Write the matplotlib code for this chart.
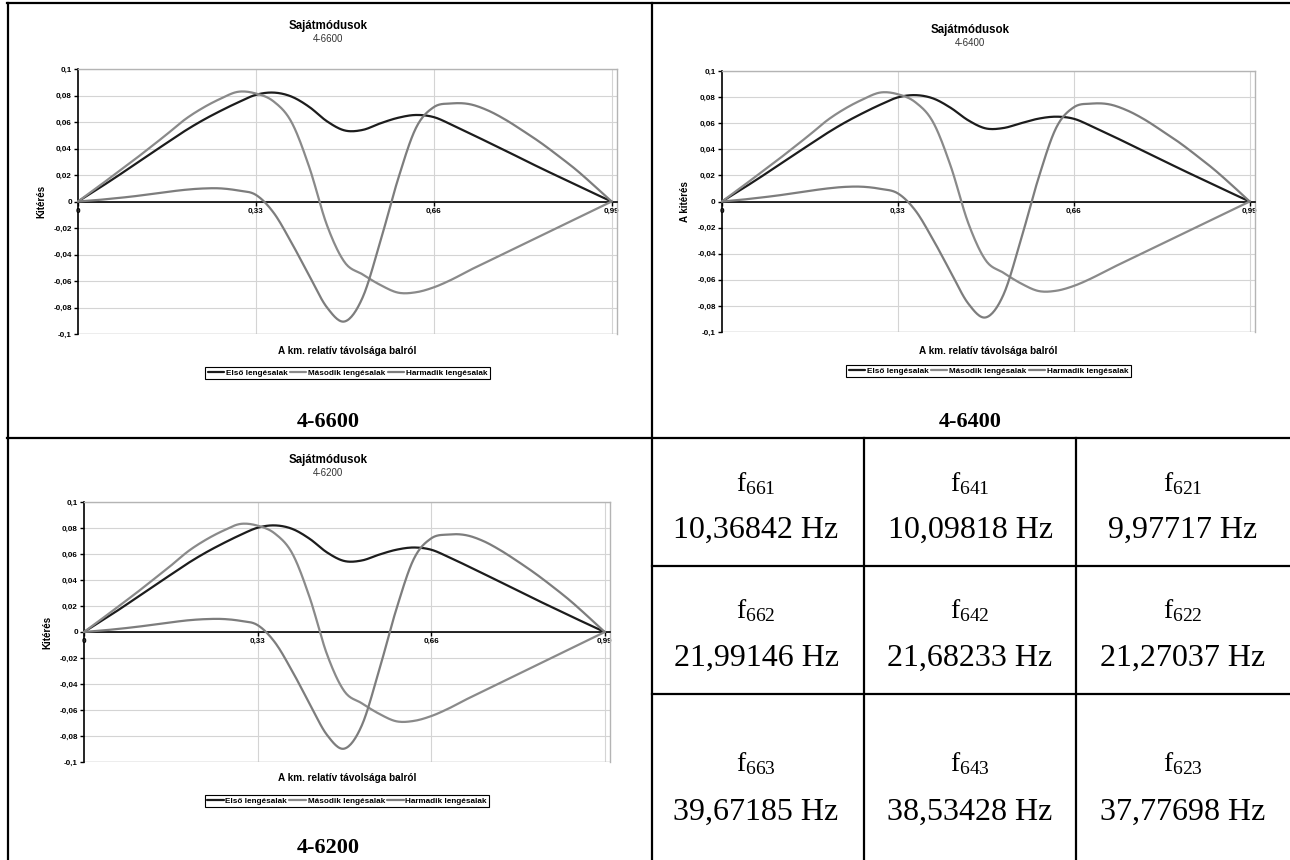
import numpy as np
import matplotlib.pyplot as plt
from matplotlib.lines import Line2D
from matplotlib.ticker import FixedLocator

plt.rcParams['font.family'] = ['Liberation Sans', 'DejaVu Sans']
plt.rcParams['mathtext.fontset'] = 'custom'
plt.rcParams['mathtext.rm'] = 'Liberation Serif'
plt.rcParams['mathtext.it'] = 'Liberation Serif'

W, H = 1290, 860

# relative position of the measuring points along the beam
x_rel = [0, 0.033, 0.066, 0.099, 0.132, 0.165, 0.198, 0.231, 0.264, 0.297, 0.33,
         0.363, 0.396, 0.429, 0.462, 0.495, 0.528, 0.561, 0.594, 0.627, 0.66,
         0.693, 0.726, 0.759, 0.792, 0.825, 0.858, 0.891, 0.924, 0.957, 0.99]

# 4-6600
mode1_6600 = [0, 0.0085, 0.0172, 0.0262, 0.0353, 0.0443, 0.0532, 0.0612, 0.0683, 0.0748, 0.0805,
              0.0822, 0.0792, 0.0714, 0.0605, 0.0536, 0.0540, 0.0590, 0.0632, 0.0653, 0.0637,
              0.0580, 0.0516, 0.0451, 0.0386, 0.0319, 0.0253, 0.0189, 0.0125, 0.0062, 0]
mode2_6600 = [0, 0.0098, 0.0198, 0.0298, 0.0402, 0.0508, 0.0618, 0.0705, 0.0775, 0.0828, 0.0815,
              0.0755, 0.0600, 0.0260, -0.0180, -0.0460, -0.0550, -0.0630, -0.0688, -0.0685, -0.0648,
              -0.0590, -0.0520, -0.0455, -0.0390, -0.0325, -0.0260, -0.0195, -0.0130, -0.0065, 0]
mode3_6600 = [0, 0.0010, 0.0023, 0.0037, 0.0054, 0.0072, 0.0088, 0.0098, 0.0099, 0.0083, 0.0050,
              -0.0085, -0.0310, -0.0560, -0.0800, -0.0905, -0.0725, -0.0300, 0.0172, 0.0555, 0.0712,
              0.0740, 0.0735, 0.0690, 0.0620, 0.0535, 0.0445, 0.0345, 0.0240, 0.0122, 0]

# 4-6400
mode1_6400 = [0, 0.0084, 0.0170, 0.0259, 0.0349, 0.0438, 0.0526, 0.0606, 0.0677, 0.0742, 0.0798,
              0.0815, 0.0790, 0.0718, 0.0622, 0.0560, 0.0563, 0.0600, 0.0635, 0.0650, 0.0634,
              0.0578, 0.0515, 0.0450, 0.0385, 0.0319, 0.0253, 0.0189, 0.0125, 0.0062, 0]
mode2_6400 = [0, 0.0099, 0.0200, 0.0301, 0.0406, 0.0513, 0.0624, 0.0712, 0.0782, 0.0835, 0.0822,
              0.0760, 0.0608, 0.0272, -0.0165, -0.0452, -0.0546, -0.0628, -0.0686, -0.0684, -0.0647,
              -0.0589, -0.0520, -0.0455, -0.0390, -0.0325, -0.0260, -0.0195, -0.0130, -0.0065, 0]
mode3_6400 = [0, 0.0012, 0.0027, 0.0043, 0.0062, 0.0082, 0.0100, 0.0112, 0.0113, 0.0097, 0.0062,
              -0.0070, -0.0292, -0.0540, -0.0782, -0.0888, -0.0715, -0.0290, 0.0182, 0.0565, 0.0722,
              0.0750, 0.0745, 0.0700, 0.0630, 0.0543, 0.0452, 0.0350, 0.0243, 0.0124, 0]

# 4-6200
mode1_6200 = [0, 0.0085, 0.0171, 0.0261, 0.0351, 0.0441, 0.0530, 0.0610, 0.0681, 0.0746, 0.0802,
              0.0820, 0.0793, 0.0717, 0.0612, 0.0546, 0.0550, 0.0595, 0.0633, 0.0650, 0.0633,
              0.0577, 0.0514, 0.0449, 0.0384, 0.0318, 0.0252, 0.0188, 0.0124, 0.0062, 0]
mode2_6200 = [0, 0.0098, 0.0199, 0.0299, 0.0404, 0.0510, 0.0621, 0.0708, 0.0778, 0.0831, 0.0818,
              0.0757, 0.0604, 0.0266, -0.0172, -0.0456, -0.0548, -0.0629, -0.0687, -0.0684, -0.0647,
              -0.0589, -0.0520, -0.0455, -0.0390, -0.0325, -0.0260, -0.0195, -0.0130, -0.0065, 0]
mode3_6200 = [0, 0.0011, 0.0024, 0.0039, 0.0056, 0.0074, 0.0090, 0.0099, 0.0100, 0.0086, 0.0053,
              -0.0080, -0.0302, -0.0552, -0.0792, -0.0897, -0.0720, -0.0295, 0.0178, 0.0562, 0.0720,
              0.0750, 0.0745, 0.0700, 0.0628, 0.0542, 0.0450, 0.0349, 0.0242, 0.0123, 0]

series_names = ['Első lengésalak', 'Második lengésalak', 'Harmadik lengésalak']
series_colors = ['#1c1c1c', '#8a8a8a', '#7d7d7d']

y_ticks = [-0.1, -0.08, -0.06, -0.04, -0.02, 0, 0.02, 0.04, 0.06, 0.08, 0.1]
y_labels = ['-0,1', '-0,08', '-0,06', '-0,04', '-0,02', '0', '0,02', '0,04', '0,06', '0,08', '0,1']
x_ticks = [0, 0.33, 0.66, 0.99]
x_labels = ['0', '0,33', '0,66', '0,99']

# frequency table: rows = mode number, columns = 6600 / 6400 / 6200
freq_names = [['f$_{661}$', 'f$_{641}$', 'f$_{621}$'],
              ['f$_{662}$', 'f$_{642}$', 'f$_{622}$'],
              ['f$_{663}$', 'f$_{643}$', 'f$_{623}$']]
freq_values = [['10,36842 Hz', '10,09818 Hz', '9,97717 Hz'],
               ['21,99146 Hz', '21,68233 Hz', '21,27037 Hz'],
               ['39,67185 Hz', '38,53428 Hz', '37,77698 Hz']]


def smooth(x, y, n=16):
    # Catmull-Rom curve through the points, like a smoothed spreadsheet line
    pts = np.column_stack([x, y]).astype(float)
    p = np.vstack([2 * pts[0] - pts[1], pts, 2 * pts[-1] - pts[-2]])
    t = np.linspace(0, 1, n, endpoint=False)[:, None]
    out = []
    for i in range(1, len(p) - 2):
        p0, p1, p2, p3 = p[i - 1], p[i], p[i + 1], p[i + 2]
        seg = 0.5 * (2 * p1 + (-p0 + p2) * t + (2 * p0 - 5 * p1 + 4 * p2 - p3) * t ** 2
                     + (-p0 + 3 * p1 - 3 * p2 + p3) * t ** 3)
        out.append(seg)
    out.append(pts[-1:])
    s = np.vstack(out)
    return s[:, 0], s[:, 1]


def fx(px):
    return px / W


def fy(py):
    return 1 - py / H


fig = plt.figure(figsize=(W / 100, H / 100), dpi=100)


def mode_chart(box, modes, subtitle, ylabel, title_y, xlabel_y, legend_y, big_y, cx):
    left, top, right, bottom = box
    ax = fig.add_axes([fx(left), fy(bottom), fx(right - left), (bottom - top) / H])
    ax.set_xlim(0, 1.0)
    ax.set_ylim(-0.1, 0.1)

    ax.yaxis.set_major_locator(FixedLocator(y_ticks))
    ax.set_yticklabels(y_labels)
    ax.xaxis.set_major_locator(FixedLocator(x_ticks))
    ax.set_xticklabels(x_labels)

    for v in y_ticks:
        ax.axhline(v, color='#d4d4d4', lw=0.8, zorder=0)
    for v in x_ticks[1:]:
        ax.axvline(v, color='#d4d4d4', lw=0.8, zorder=0)

    ax.spines['bottom'].set_position(('data', 0))
    ax.spines['bottom'].set_color('black')
    ax.spines['bottom'].set_linewidth(1.2)
    ax.spines['left'].set_color('black')
    ax.spines['left'].set_linewidth(1.2)
    for s in ['top', 'right']:
        ax.spines[s].set_color('#b4b4b4')
        ax.spines[s].set_linewidth(1.0)
    ax.axhline(-0.1, color='#b4b4b4', lw=1.0, zorder=0.5)

    ax.tick_params(axis='both', direction='out', length=3, width=1, colors='black',
                   labelsize=5.8, pad=1.5)
    for lab in ax.get_xticklabels() + ax.get_yticklabels():
        lab.set_fontweight('bold')

    handles = []
    for vals, name, col in zip(modes, series_names, series_colors):
        sx, sy = smooth(x_rel, vals)
        ln, = ax.plot(sx, sy, color=col, lw=1.6, label=name, solid_capstyle='round',
                      clip_on=False, zorder=3)
        handles.append(ln)

    ax.set_ylabel(ylabel, fontsize=7, fontweight='bold', labelpad=5)

    fig.text(fx(cx), fy(title_y), 'Sajátmódusok', ha='center', va='center',
             fontsize=8.3, fontweight='bold')
    fig.text(fx(cx), fy(title_y + 13), subtitle, ha='center', va='center', fontsize=7,
             color='#333333')
    fig.text(fx((left + right) / 2), fy(xlabel_y), 'A km. relatív távolsága balról',
             ha='center', va='center', fontsize=7.2, fontweight='bold')
    leg = fig.legend(handles, series_names, loc='center',
                     bbox_to_anchor=(fx((left + right) / 2), fy(legend_y)), ncol=3,
                     prop={'size': 5.9, 'weight': 'bold'}, frameon=True, fancybox=False,
                     edgecolor='black', framealpha=1, handlelength=2.0, handletextpad=0.2,
                     columnspacing=0.3, borderpad=0.3, borderaxespad=0)
    leg.get_frame().set_linewidth(0.8)
    fig.text(fx(cx), fy(big_y), subtitle, ha='center', va='center', fontsize=16,
             fontweight='bold', family='Liberation Serif')
    return ax


mode_chart((78, 69, 617, 334), [mode1_6600, mode2_6600, mode3_6600], '4-6600', 'Kitérés',
           title_y=26, xlabel_y=351, legend_y=373, big_y=422, cx=328)
mode_chart((722, 71, 1255, 332), [mode1_6400, mode2_6400, mode3_6400], '4-6400', 'A kitérés',
           title_y=30, xlabel_y=351, legend_y=371, big_y=422, cx=970)
mode_chart((84, 502, 610, 762), [mode1_6200, mode2_6200, mode3_6200], '4-6200', 'Kitérés',
           title_y=460, xlabel_y=778, legend_y=801, big_y=848, cx=328)

# table grid
lw = 1.6
grid_lines = [
    ((7, 1290), (2.5, 2.5)),
    ((7.5, 7.5), (2.5, 860)),
    ((652, 652), (2.5, 860)),
    ((7, 1290), (437.5, 437.5)),
    ((864, 864), (437.5, 860)),
    ((1076, 1076), (437.5, 860)),
    ((652, 1290), (565.5, 565.5)),
    ((652, 1290), (694, 694)),
]
for (x0, x1), (y0, y1) in grid_lines:
    fig.add_artist(Line2D([fx(x0), fx(x1)], [fy(y0), fy(y1)], color='black', lw=lw,
                          transform=fig.transFigure))

col_centers = [756, 970, 1183]
name_rows = [484, 611, 764]
value_rows = [530, 658, 812]
for r in range(3):
    for c in range(3):
        fig.text(fx(col_centers[c]), fy(name_rows[r]), freq_names[r][c],
                 ha='center', va='center', fontsize=20, family='Liberation Serif')
        fig.text(fx(col_centers[c]), fy(value_rows[r]), freq_values[r][c], ha='center',
                 va='center', fontsize=23, family='Liberation Serif')

fig.savefig('out.png', dpi=100, facecolor='white')
